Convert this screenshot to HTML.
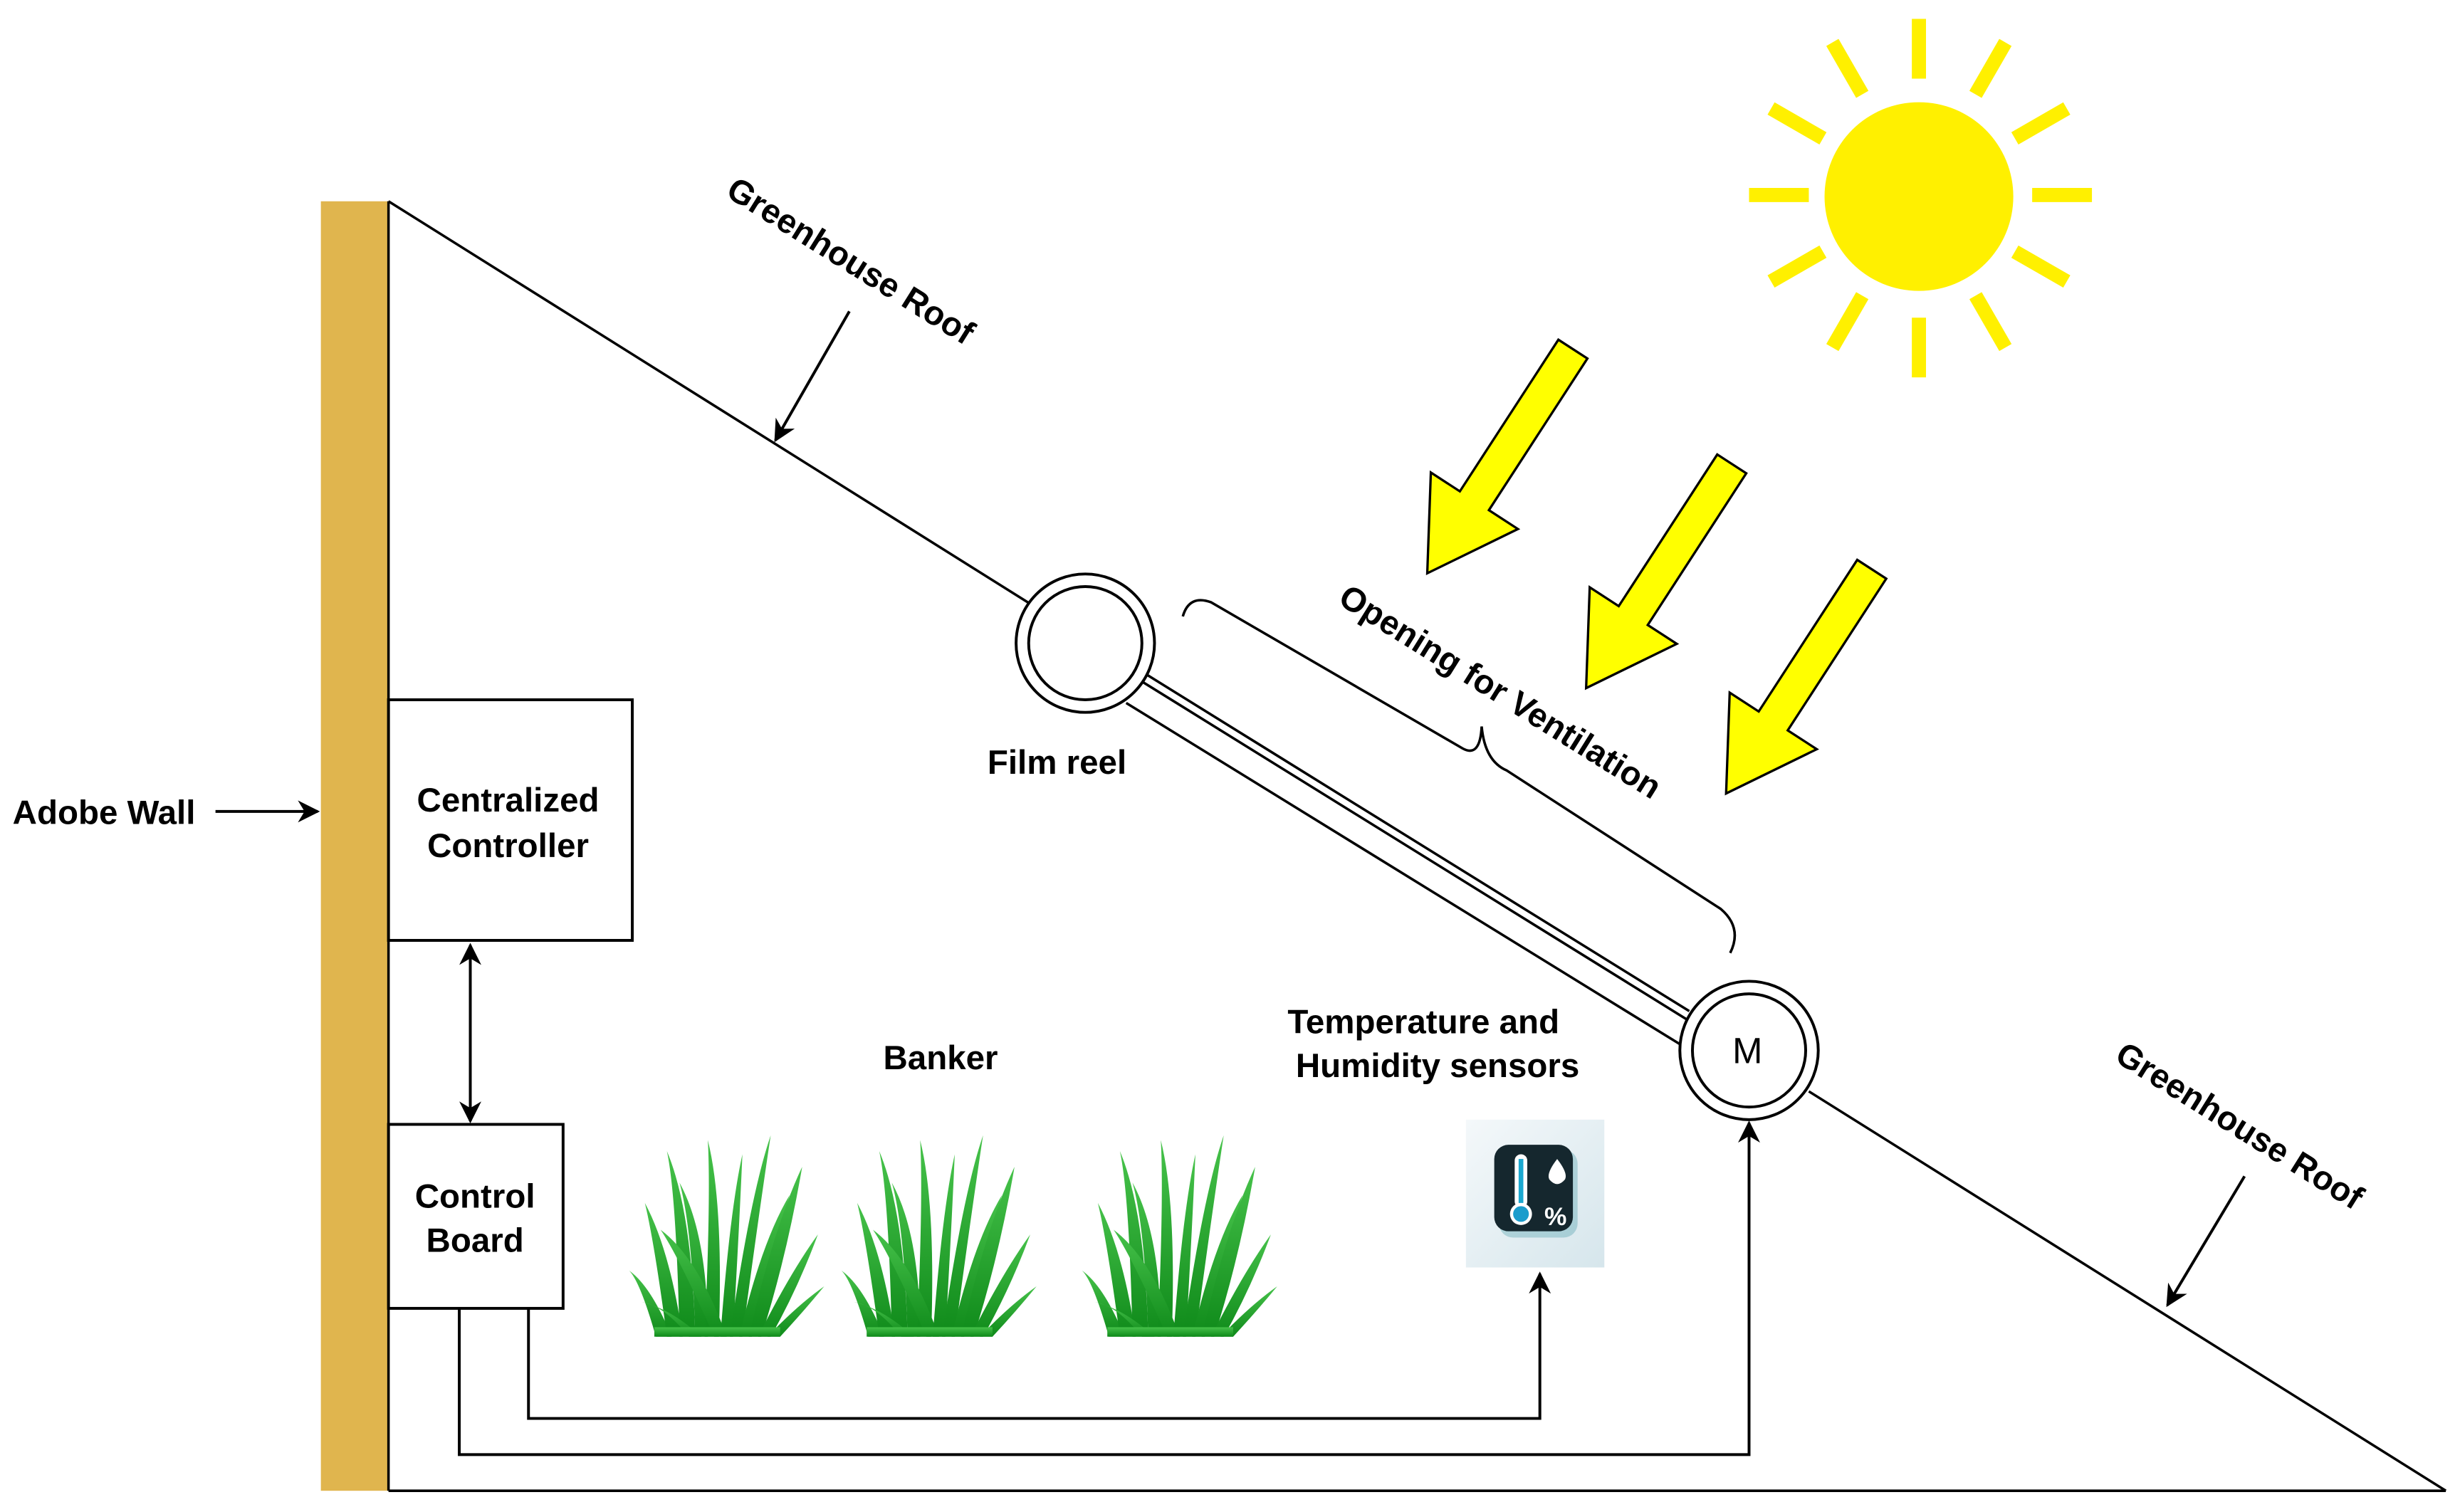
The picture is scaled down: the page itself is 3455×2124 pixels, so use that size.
<!DOCTYPE html>
<html><head><meta charset="utf-8"><style>
html,body{margin:0;padding:0;background:#fff;}
svg{display:block;}
text{font-family:"Liberation Sans",Arial,sans-serif;fill:#000;}
.b{font-weight:bold;font-size:21.5px;}
</style></head><body>
<svg width="3455" height="2124" viewBox="0 0 1564 961.5" preserveAspectRatio="none" xmlns="http://www.w3.org/2000/svg">
<defs>
<marker id="ah" viewBox="0 0 10 10" refX="9" refY="5" markerWidth="14" markerHeight="14" markerUnits="userSpaceOnUse" orient="auto-start-reverse"><path d="M0,0 L10,5 L0,10 L3,5 Z" fill="#000"/></marker>
<linearGradient id="gg" x1="0" y1="0" x2="0" y2="1"><stop offset="0" stop-color="#46c24a"/><stop offset="1" stop-color="#0f8a1a"/></linearGradient>
<linearGradient id="ib" x1="0" y1="0" x2="1" y2="1"><stop offset="0" stop-color="#f4f8fa"/><stop offset="1" stop-color="#d6e6ec"/></linearGradient>
<g id="grass" fill="url(#gg)">
<path d="M15,130 Q5,95 -2,88 Q12,98 25,130Z"/>
<path d="M22,130 Q14,70 8,45 Q24,75 32,130Z"/>
<path d="M30,130 Q28,40 22,12 Q38,50 40,130Z"/>
<path d="M40,130 Q38,60 30,32 Q48,65 48,130Z"/>
<path d="M46,130 Q50,40 48,5 Q58,45 55,130Z"/>
<path d="M52,130 Q30,80 18,62 Q42,80 60,130Z"/>
<path d="M56,130 Q62,50 70,14 Q68,60 64,130Z"/>
<path d="M62,130 Q75,40 88,2 Q80,55 70,130Z"/>
<path d="M68,130 Q82,70 100,40 Q88,80 76,130Z"/>
<path d="M74,130 Q90,60 108,22 Q98,80 82,130Z"/>
<path d="M80,130 Q100,90 118,65 Q105,100 88,130Z"/>
<path d="M86,130 Q105,110 122,98 Q108,115 94,130Z"/>
<path d="M36,130 Q20,110 6,108 Q24,112 44,130Z"/>
<rect x="14" y="124" width="80" height="6"/>
</g>
</defs>

<rect x="204" y="128" width="43" height="820" fill="#E0B54E"/>
<line x1="247" y1="128" x2="247" y2="948" stroke="#000" stroke-width="1.6"/>

<line x1="247" y1="128" x2="655" y2="384" stroke="#000" stroke-width="1.6"/>
<line x1="1150" y1="694" x2="1555" y2="948" stroke="#000" stroke-width="1.6"/>
<line x1="247" y1="948" x2="1555" y2="948" stroke="#000" stroke-width="1.6"/>
<line x1="729" y1="429" x2="1074" y2="643" stroke="#000" stroke-width="1.6"/>
<line x1="727" y1="434" x2="1072" y2="648" stroke="#000" stroke-width="1.6"/>
<line x1="716" y1="447" x2="1068" y2="664" stroke="#000" stroke-width="1.6"/>

<circle cx="690" cy="409" r="44" fill="#fff" stroke="#000" stroke-width="1.8"/>
<circle cx="690" cy="409" r="36" fill="#fff" stroke="#000" stroke-width="1.8"/>
<circle cx="1112" cy="668" r="44" fill="#fff" stroke="#000" stroke-width="1.8"/>
<circle cx="1112" cy="668" r="36" fill="#fff" stroke="#000" stroke-width="1.8"/>
<text x="1111" y="676" font-size="23" text-anchor="middle">M</text>

<path d="M752,392 Q756,378 770,383 L930,476 Q941,482 942,462 Q944,484 958,490 L1094,578 Q1108,590 1100,606" fill="none" stroke="#000" stroke-width="1.6"/>

<text class="b" transform="translate(537,172) rotate(32)" text-anchor="middle">Greenhouse Roof</text>
<text class="b" transform="translate(1420,722) rotate(32)" text-anchor="middle">Greenhouse Roof</text>
<text class="b" transform="translate(950,446) rotate(32)" text-anchor="middle">Opening for Ventilation</text>
<line x1="540" y1="198" x2="493" y2="280" stroke="#000" stroke-width="1.8" marker-end="url(#ah)"/>
<line x1="1427" y1="748" x2="1378" y2="830" stroke="#000" stroke-width="1.8" marker-end="url(#ah)"/>

<g stroke="#FFF000" stroke-width="9" stroke-linecap="butt">
<line x1="1220" y1="12" x2="1220" y2="50"/>
<line x1="1220" y1="202" x2="1220" y2="240"/>
<line x1="1112" y1="124" x2="1150" y2="124"/>
<line x1="1292" y1="124" x2="1330" y2="124"/>
<line x1="1165" y1="27" x2="1184" y2="60"/>
<line x1="1256" y1="188" x2="1275" y2="221"/>
<line x1="1275" y1="27" x2="1256" y2="60"/>
<line x1="1184" y1="188" x2="1165" y2="221"/>
<line x1="1126" y1="69" x2="1159" y2="88"/>
<line x1="1281" y1="160" x2="1314" y2="179"/>
<line x1="1314" y1="69" x2="1281" y2="88"/>
<line x1="1159" y1="160" x2="1126" y2="179"/>
</g>
<circle cx="1220" cy="125" r="60" fill="#FFF000"/>

<g fill="#FFFF00" stroke="#000" stroke-width="1.5" stroke-linejoin="miter">
<polygon points="0,-11 115,-11 115,-33 170,0 115,33 115,11 0,11" transform="translate(1000,222) rotate(123)"/>
<polygon points="0,-11 115,-11 115,-33 170,0 115,33 115,11 0,11" transform="translate(1101,295) rotate(123)"/>
<polygon points="0,-11 115,-11 115,-33 170,0 115,33 115,11 0,11" transform="translate(1190,362) rotate(123)"/>
</g>

<rect x="247" y="445" width="155" height="153" fill="#fff" stroke="#000" stroke-width="1.8"/>
<text class="b" x="323" y="516" text-anchor="middle">Centralized</text>
<text class="b" x="323" y="545" text-anchor="middle">Controller</text>
<rect x="247" y="715" width="111" height="117" fill="#fff" stroke="#000" stroke-width="1.8"/>
<text class="b" x="302" y="768" text-anchor="middle">Control</text>
<text class="b" x="302" y="796" text-anchor="middle">Board</text>
<line x1="299" y1="601" x2="299" y2="713" stroke="#000" stroke-width="1.8" marker-start="url(#ah)" marker-end="url(#ah)"/>

<text class="b" x="8" y="524">Adobe Wall</text>
<line x1="137" y1="516" x2="202" y2="516" stroke="#000" stroke-width="1.8" marker-end="url(#ah)"/>

<text class="b" x="672" y="492" text-anchor="middle">Film reel</text>
<text class="b" x="598" y="680" text-anchor="middle">Banker</text>
<text class="b" x="905" y="657" text-anchor="middle">Temperature and</text>
<text class="b" x="914" y="685" text-anchor="middle">Humidity sensors</text>

<polyline points="336,832 336,902 979,902 979,810" fill="none" stroke="#000" stroke-width="1.8" marker-end="url(#ah)"/>
<polyline points="292,832 292,925 1112,925 1112,714" fill="none" stroke="#000" stroke-width="1.8" marker-end="url(#ah)"/>

<use href="#grass" transform="translate(402,720)"/>
<use href="#grass" transform="translate(537,720)"/>
<use href="#grass" transform="translate(690,720)"/>

<rect x="932" y="712" width="88" height="94" fill="url(#ib)"/>
<rect x="953" y="731" width="50" height="56" rx="9" fill="#0a7a8c" opacity="0.25"/>
<rect x="950" y="728" width="50" height="55" rx="9" fill="#15272e"/>
<rect x="963" y="734" width="8" height="34" rx="4" fill="#fff"/>
<rect x="965.5" y="737" width="3" height="28" fill="#1aa8d0"/>
<circle cx="967" cy="772" r="7" fill="#fff"/>
<circle cx="967" cy="772" r="5" fill="#1a9ccc"/>
<path d="M990,737 Q983,746 985,750 Q990,756 995,750 Q997,746 990,737Z" fill="#fff"/>
<text x="989" y="779" font-size="16" font-weight="bold" text-anchor="middle" style="fill:#fff">%</text>
</svg>
</body></html>
